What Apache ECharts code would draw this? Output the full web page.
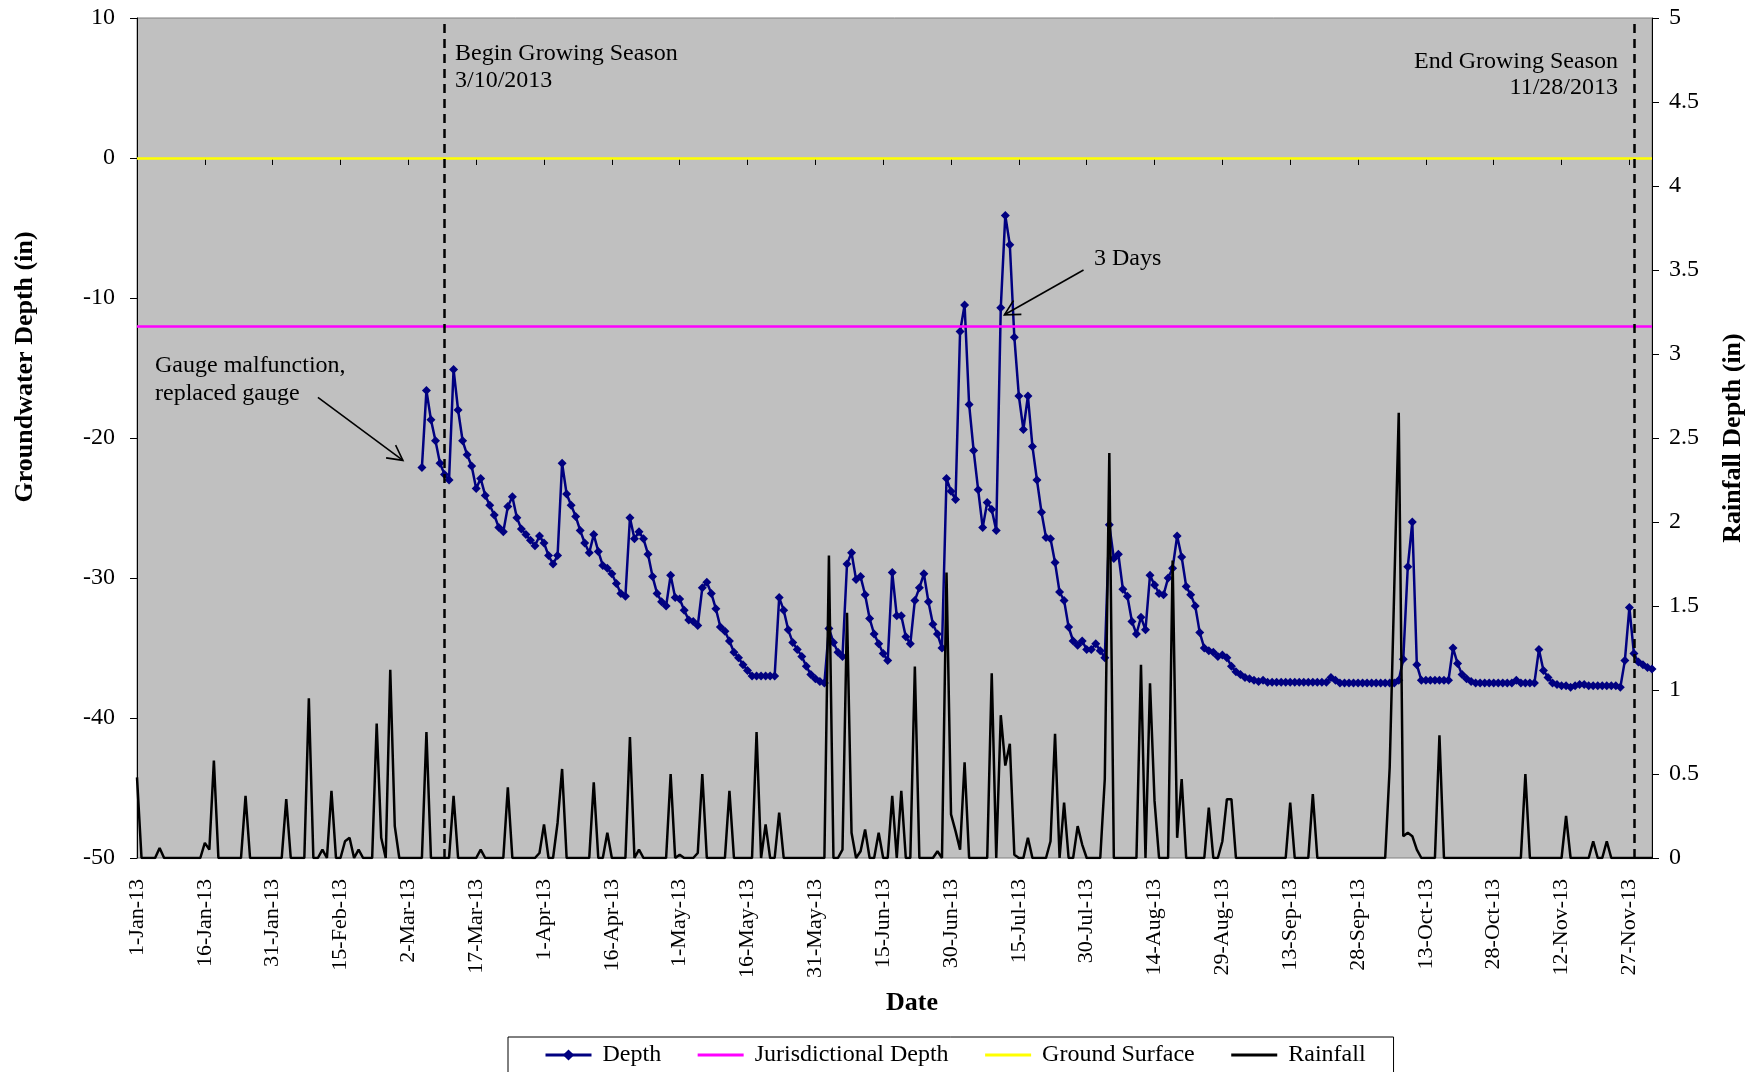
<!DOCTYPE html>
<html>
<head>
<meta charset="utf-8">
<script src="https://cdn.jsdelivr.net/npm/echarts@6/dist/echarts.min.js"></script>
<style>
  html, body { margin: 0; padding: 0; background: #ffffff; }
  #chart { width: 1756px; height: 1072px; }
</style>
</head>
<body>
<div id="chart"></div>
<script>
// ---- Daily categories: 1-Jan-13 through 2-Dec-13 ----
const MONTHS = ['Jan','Feb','Mar','Apr','May','Jun','Jul','Aug','Sep','Oct','Nov','Dec'];
const dates = [];
for (let d = new Date(Date.UTC(2013, 0, 1)); d <= new Date(Date.UTC(2013, 11, 2)); d.setUTCDate(d.getUTCDate() + 1)) {
  dates.push(d.getUTCDate() + '-' + MONTHS[d.getUTCMonth()] + '-13');
}

// ---- Groundwater depth (in), daily readings from the replaced gauge ----
const depthStartDate = '5-Mar-13';
const depthMar = [-22.1, -16.6, -18.7, -20.2, -21.8, -22.6, -23.0, -15.1, -18.0, -20.2, -21.2, -22.0, -23.6, -22.9,
  -24.1, -24.8, -25.5, -26.4, -26.7, -24.9, -24.2, -25.7, -26.5, -26.9, -27.3, -27.7, -27.0];
const depthApr = [-27.5, -28.4, -29.0, -28.4, -21.8, -24.0, -24.8, -25.6, -26.6, -27.5, -28.2, -26.9, -28.1, -29.1,
  -29.3, -29.7, -30.4, -31.1, -31.3, -25.7, -27.2, -26.7, -27.2, -28.3, -29.9, -31.1, -31.7, -32.0, -29.8, -31.4];
const depthMay = [-31.5, -32.3, -33.0, -33.1, -33.4, -30.7, -30.3, -31.1, -32.2, -33.5, -33.8, -34.5, -35.3, -35.7,
  -36.2, -36.6, -37.0, -37.0, -37.0, -37.0, -37.0, -37.0, -31.4, -32.3, -33.7, -34.6, -35.1, -35.6, -36.3, -36.9, -37.2];
const depthJun = [-37.4, -37.5, -33.6, -34.6, -35.3, -35.6, -29.0, -28.2, -30.1, -29.9, -31.2, -32.9, -34.0, -34.7,
  -35.4, -35.9, -29.6, -32.7, -32.7, -34.2, -34.7, -31.6, -30.7, -29.7, -31.7, -33.3, -34.0, -35.0, -22.9, -23.8];
const depthJul = [-24.4, -12.4, -10.5, -17.6, -20.9, -23.7, -26.4, -24.6, -25.1, -26.6, -10.7, -4.1, -6.2, -12.8,
  -17.0, -19.4, -17.0, -20.6, -23.0, -25.3, -27.1, -27.2, -28.9, -31.0, -31.6, -33.5, -34.5, -34.8, -34.5, -35.1, -35.1];
const depthAug = [-34.7, -35.2, -35.7, -26.2, -28.6, -28.3, -30.8, -31.3, -33.1, -34.0, -32.8, -33.7, -29.8, -30.5,
  -31.1, -31.2, -30.0, -29.3, -27.0, -28.5, -30.6, -31.2, -32.0, -33.9, -35.0, -35.2, -35.3, -35.6, -35.5, -35.7, -36.3];
const depthSep = [-36.7, -36.9, -37.1, -37.2, -37.3, -37.4, -37.3, -37.45, -37.45, -37.45, -37.45, -37.45, -37.45,
  -37.45, -37.45, -37.45, -37.45, -37.45, -37.45, -37.45, -37.45, -37.1, -37.3, -37.5, -37.5, -37.5, -37.5, -37.5,
  -37.5, -37.5];
const depthOct = [-37.5, -37.5, -37.5, -37.5, -37.5, -37.5, -37.3, -35.8, -29.2, -26.0, -36.2, -37.3, -37.3, -37.3,
  -37.3, -37.3, -37.3, -37.3, -35.0, -36.1, -36.9, -37.2, -37.4, -37.5, -37.5, -37.5, -37.5, -37.5, -37.5, -37.5, -37.5];
const depthNov = [-37.5, -37.3, -37.5, -37.5, -37.5, -37.5, -35.1, -36.6, -37.1, -37.5, -37.6, -37.7, -37.7, -37.8,
  -37.7, -37.6, -37.6, -37.7, -37.7, -37.7, -37.7, -37.7, -37.7, -37.7, -37.8, -35.9, -32.1, -35.4, -36.0, -36.2];
const depthDec = [-36.4, -36.5];

// ---- Daily rainfall (in) ----
const rainJan = [0.48, 0, 0, 0, 0, 0.06, 0, 0, 0, 0, 0, 0, 0, 0, 0, 0.09, 0.05, 0.58, 0, 0, 0, 0, 0, 0, 0.37, 0, 0, 0, 0, 0, 0];
const rainFeb = [0, 0, 0.35, 0, 0, 0, 0, 0.95, 0, 0, 0.05, 0, 0.40, 0, 0, 0.10, 0.12, 0, 0.05, 0, 0, 0, 0.80, 0.12, 0, 1.12, 0.19, 0];
const rainMar = [0, 0, 0, 0, 0, 0.75, 0, 0, 0, 0, 0, 0.37, 0, 0, 0, 0, 0, 0.05, 0, 0, 0, 0, 0, 0.42, 0, 0, 0, 0, 0, 0, 0.03];
const rainApr = [0.20, 0, 0, 0.21, 0.53, 0, 0, 0, 0, 0, 0, 0.45, 0, 0, 0.15, 0, 0, 0, 0, 0.72, 0, 0.05, 0, 0, 0, 0, 0, 0, 0.50, 0];
const rainMay = [0.02, 0, 0, 0, 0.03, 0.50, 0, 0, 0, 0, 0, 0.40, 0, 0, 0, 0, 0, 0.75, 0, 0.20, 0, 0, 0.27, 0, 0, 0, 0, 0, 0, 0, 0];
const rainJun = [0, 0, 1.80, 0, 0, 0.05, 1.46, 0.15, 0, 0.04, 0.17, 0, 0, 0.15, 0, 0, 0.37, 0, 0.40, 0, 0, 1.14, 0, 0, 0, 0, 0.04, 0, 1.70, 0.26];
const rainJul = [0.16, 0.05, 0.57, 0, 0, 0, 0, 0, 1.10, 0, 0.85, 0.55, 0.68, 0.02, 0, 0, 0.12, 0, 0, 0, 0, 0.10, 0.74, 0, 0.33, 0, 0, 0.19, 0.08, 0, 0];
const rainAug = [0, 0, 0.47, 2.41, 0, 0, 0, 0, 0, 0, 1.15, 0, 1.04, 0.34, 0, 0, 0, 1.77, 0.12, 0.47, 0, 0, 0, 0, 0, 0.30, 0, 0, 0.10, 0.35, 0.35];
const rainSep = [0, 0, 0, 0, 0, 0, 0, 0, 0, 0, 0, 0, 0.33, 0, 0, 0, 0, 0.38, 0, 0, 0, 0, 0, 0, 0, 0, 0, 0, 0, 0];
const rainOct = [0, 0, 0, 0, 0.54, 1.60, 2.65, 0.13, 0.15, 0.13, 0.05, 0, 0, 0, 0, 0.73, 0, 0, 0, 0, 0, 0, 0, 0, 0, 0, 0, 0, 0, 0, 0];
const rainNov = [0, 0, 0, 0.50, 0, 0, 0, 0, 0, 0, 0, 0, 0.25, 0, 0, 0, 0, 0, 0.10, 0, 0, 0.10, 0, 0, 0, 0, 0, 0, 0, 0];
const rainDec = [0, 0];

// ---- Reference levels and growing season ----
const groundSurface = 0;           // in
const jurisdictionalDepth = -12;   // in
const seasonStart = '10-Mar-13';
const seasonEnd = '28-Nov-13';

// ---- Annotation arrows, in (day index, depth) coordinates ----
const gaugeArrow = { tail: [40.0, -17.1], tip: [58.8, -21.6] };
const daysArrow = { tail: [209.3, -8.0], tip: [191.8, -11.2] };

const depthValues = [].concat(depthMar, depthApr, depthMay, depthJun, depthJul, depthAug, depthSep, depthOct, depthNov, depthDec);
const rainfall = [].concat(rainJan, rainFeb, rainMar, rainApr, rainMay, rainJun, rainJul, rainAug, rainSep, rainOct, rainNov, rainDec);
const depthStart = dates.indexOf(depthStartDate);
const depthSeries = dates.map((d, i) => (i >= depthStart && i - depthStart < depthValues.length) ? depthValues[i - depthStart] : null);

const FONT = '"Liberation Serif", "Times New Roman", serif';
const chart = echarts.init(document.getElementById('chart'), null, { renderer: 'canvas' });

// plain line icon in the legend (no marker) for the series drawn without symbols
const lineOnly = { itemStyle: { opacity: 0, borderWidth: 0 } };

const option = {
  animation: false,
  backgroundColor: '#ffffff',
  textStyle: { fontFamily: FONT, color: '#000' },
  grid: {
    left: 137, right: 104, top: 18, bottom: 214,
    show: true, backgroundColor: '#C0C0C0', borderColor: '#808080', borderWidth: 1
  },
  legend: {
    data: [
      { name: 'Depth' },
      Object.assign({ name: 'Jurisdictional Depth' }, lineOnly),
      Object.assign({ name: 'Ground Surface' }, lineOnly),
      Object.assign({ name: 'Rainfall' }, lineOnly)
    ],
    left: 508, top: 1037,
    padding: [6, 28, 6, 36],
    itemWidth: 46, itemHeight: 14, itemGap: 35,
    lineStyle: { width: 3 },
    borderColor: '#000', borderWidth: 1,
    backgroundColor: '#ffffff',
    textStyle: { fontFamily: FONT, fontSize: 24, color: '#000', padding: [0, 0, 0, 6] },
    selectedMode: false
  },
  xAxis: [
    {
      type: 'category', data: dates, boundaryGap: false,
      axisLine: { lineStyle: { color: '#000', width: 1 } },
      axisTick: { interval: 14, length: 7, lineStyle: { color: '#000' } },
      axisLabel: { interval: 14, rotate: 90, margin: 21, fontSize: 22, fontFamily: FONT, color: '#000' },
      splitLine: { show: false }
    },
    { type: 'value', min: 0, max: dates.length - 1, show: false }
  ],
  yAxis: [
    {
      type: 'value', min: -50, max: 10, interval: 10,
      axisLine: { show: true, lineStyle: { color: '#000' } },
      axisTick: { show: true, length: 7, lineStyle: { color: '#000' } },
      axisLabel: { margin: 22, fontSize: 24, fontFamily: FONT, color: '#000' },
      splitLine: { show: false }
    },
    {
      type: 'value', position: 'right', min: 0, max: 5, interval: 0.5,
      axisLine: { show: true, lineStyle: { color: '#000' } },
      axisTick: { show: true, length: 7, lineStyle: { color: '#000' } },
      axisLabel: { margin: 17, fontSize: 24, fontFamily: FONT, color: '#000' },
      splitLine: { show: false }
    }
  ],
  series: [
    {
      name: 'Depth', type: 'line', xAxisIndex: 0, yAxisIndex: 0,
      data: depthSeries, connectNulls: false,
      symbol: 'diamond', symbolSize: 9, showAllSymbol: true,
      color: '#000080',
      itemStyle: { color: '#000080' },
      lineStyle: { color: '#000080', width: 2.5 },
      z: 2, silent: true
    },
    {
      name: 'Jurisdictional Depth', type: 'line', xAxisIndex: 0, yAxisIndex: 0,
      data: [], symbol: 'none', color: '#FF00FF',
      lineStyle: { color: '#FF00FF', width: 2.5 },
      markLine: {
        silent: true, symbol: 'none', label: { show: false },
        lineStyle: { color: '#FF00FF', width: 2.5, type: 'solid' },
        data: [{ yAxis: jurisdictionalDepth }]
      },
      z: 3
    },
    {
      name: 'Ground Surface', type: 'line', xAxisIndex: 0, yAxisIndex: 0,
      data: [], symbol: 'none', color: '#FFFF00',
      lineStyle: { color: '#FFFF00', width: 2.5 },
      markLine: {
        silent: true, symbol: 'none', label: { show: false },
        lineStyle: { color: '#FFFF00', width: 2.5, type: 'solid' },
        data: [{ yAxis: groundSurface }]
      },
      z: 3
    },
    {
      name: 'Rainfall', type: 'line', xAxisIndex: 0, yAxisIndex: 1,
      data: rainfall, symbol: 'none', color: '#000000',
      lineStyle: { color: '#000000', width: 2.5 },
      z: 4, silent: true
    },
    {
      name: 'Growing Season', type: 'line', xAxisIndex: 0, yAxisIndex: 0,
      data: [], symbol: 'none',
      markLine: {
        silent: true, symbol: 'none', label: { show: false },
        lineStyle: { color: '#000000', width: 2.5, type: [9, 6] },
        data: [{ xAxis: seasonStart }, { xAxis: seasonEnd }]
      },
      z: 5
    }
  ]
};
chart.setOption(option);

// ---- Titles, notes and arrows ----
function arrowShapes(spec) {
  const a = chart.convertToPixel({ xAxisIndex: 1, yAxisIndex: 0 }, spec.tail);
  const b = chart.convertToPixel({ xAxisIndex: 1, yAxisIndex: 0 }, spec.tip);
  const ang = Math.atan2(a[1] - b[1], a[0] - b[0]);
  const len = 17, half = 28 * Math.PI / 180;
  const p1 = [b[0] + len * Math.cos(ang + half), b[1] + len * Math.sin(ang + half)];
  const p2 = [b[0] + len * Math.cos(ang - half), b[1] + len * Math.sin(ang - half)];
  const st = { stroke: '#000', lineWidth: 1.6, fill: null };
  return [
    { type: 'polyline', z: 100, silent: true, shape: { points: [a, b] }, style: st },
    { type: 'polyline', z: 100, silent: true, shape: { points: [p1, b, p2] }, style: st }
  ];
}
function label(text, x, y, opts) {
  opts = opts || {};
  return {
    type: 'text', z: 100, silent: true, x: x, y: y, rotation: opts.rotation || 0,
    style: {
      text: text, fill: '#000',
      font: (opts.bold ? 'bold ' : '') + (opts.size || 24) + 'px ' + FONT,
      align: opts.align || 'left', verticalAlign: 'middle',
      textAlign: opts.align || 'left', textVerticalAlign: 'middle'
    }
  };
}
const graphics = [
  label('Groundwater Depth (in)', 25, 367, { bold: true, size: 26, align: 'center', rotation: Math.PI / 2 }),
  label('Rainfall Depth (in)', 1733, 438, { bold: true, size: 26, align: 'center', rotation: Math.PI / 2 }),
  label('Date', 912, 1003, { bold: true, size: 26, align: 'center' }),
  label('Begin Growing Season', 455, 54),
  label('3/10/2013', 455, 81),
  label('End Growing Season', 1618, 62, { align: 'right' }),
  label('11/28/2013', 1618, 88, { align: 'right' }),
  label('3 Days', 1094, 259),
  label('Gauge malfunction,', 155, 366),
  label('replaced gauge', 155, 394)
].concat(arrowShapes(gaugeArrow), arrowShapes(daysArrow));
chart.setOption({ graphic: graphics });
</script>
</body>
</html>
